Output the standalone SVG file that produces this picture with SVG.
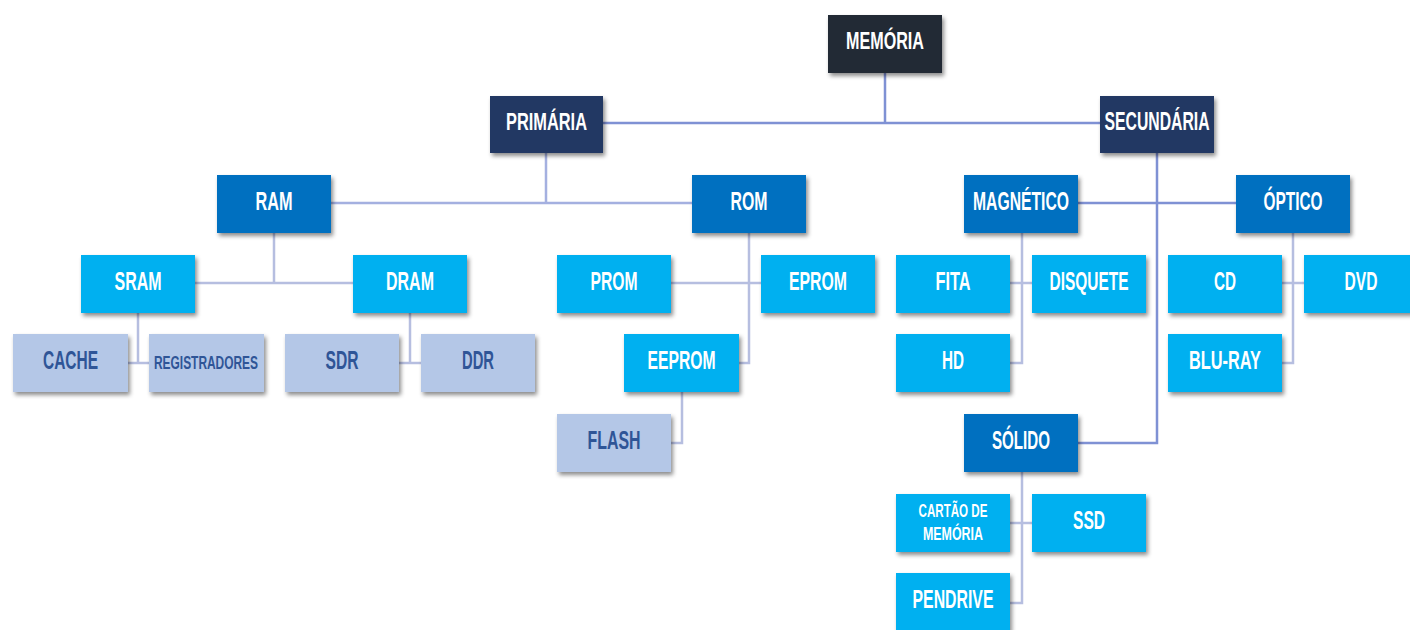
<svg xmlns="http://www.w3.org/2000/svg" width="1410" height="630" viewBox="0 0 1410 630">
<style>
.t{font-family:"Liberation Sans",Arial,sans-serif;font-weight:bold;fill:#ffffff;text-anchor:middle}
.s{font-size:26px}
.sm{font-size:19px}
.tp{fill:#2f5597}
.bx{filter:url(#sh)}
.c0{fill:#222a35}
.c1{fill:#203864}
.c2{fill:#0070c0}
.c3{fill:#00b0f0}
.c4{fill:#b4c7e7}
.l0{fill:none;stroke:#7f91d4;stroke-width:2.5}
.l1{fill:none;stroke:#a4b0e0;stroke-width:2.5}
.l2{fill:none;stroke:#b6bee0;stroke-width:2.5}
</style>
<defs>
<filter id="sh" x="-10%" y="-10%" width="125%" height="135%">
<feDropShadow dx="2" dy="3" stdDeviation="2.2" flood-color="#000000" flood-opacity="0.45"/>
</filter>
</defs>
<rect width="1410" height="630" fill="#ffffff"/>
<g id="connectors">
<path class="l0" d="M885 73V123M603 123H1100"/>
<path class="l1" d="M546 153V203M331 203H692"/>
<path class="l0" d="M1157 153V443H1078M1078 203H1236"/>
<path class="l2" d="M274 233V283M195 283H353"/>
<path class="l2" d="M749 233V363H739M671 283H761"/>
<path class="l2" d="M138 313V363M128 363H149"/>
<path class="l2" d="M410 313V363M399 363H421"/>
<path class="l2" d="M682 392V443H671"/>
<path class="l2" d="M1022 233V363H1010M1010 283H1032"/>
<path class="l2" d="M1293 233V363H1282M1282 283H1304"/>
<path class="l2" d="M1022 472V603H1010M1010 523H1032"/>
</g>
<g id="memoria"><rect class="bx c0" x="828" y="15" width="114" height="58"/><text class="t" x="885" y="49" font-size="23" textLength="78" lengthAdjust="spacingAndGlyphs">MEMÓRIA</text></g>
<g id="primaria"><rect class="bx c1" x="490" y="96" width="113" height="57"/><text class="t" x="546.5" y="130" font-size="24" textLength="81" lengthAdjust="spacingAndGlyphs">PRIMÁRIA</text></g>
<g id="secundaria"><rect class="bx c1" x="1100" y="96" width="114" height="57"/><text class="t s" x="1157" y="130" textLength="105" lengthAdjust="spacingAndGlyphs">SECUNDÁRIA</text></g>
<g id="ram"><rect class="bx c2" x="217" y="175" width="114" height="58"/><text class="t s" x="274" y="210" textLength="37" lengthAdjust="spacingAndGlyphs">RAM</text></g>
<g id="rom"><rect class="bx c2" x="692" y="175" width="114" height="58"/><text class="t s" x="749" y="210" textLength="37" lengthAdjust="spacingAndGlyphs">ROM</text></g>
<g id="magnetico"><rect class="bx c2" x="964" y="175" width="114" height="58"/><text class="t s" x="1021" y="210" textLength="96" lengthAdjust="spacingAndGlyphs">MAGNÉTICO</text></g>
<g id="optico"><rect class="bx c2" x="1236" y="175" width="114" height="58"/><text class="t s" x="1293" y="210" textLength="59" lengthAdjust="spacingAndGlyphs">ÓPTICO</text></g>
<g id="sram"><rect class="bx c3" x="81" y="255" width="114" height="58"/><text class="t s" x="138" y="290" textLength="47" lengthAdjust="spacingAndGlyphs">SRAM</text></g>
<g id="dram"><rect class="bx c3" x="353" y="255" width="114" height="58"/><text class="t s" x="410" y="290" textLength="48" lengthAdjust="spacingAndGlyphs">DRAM</text></g>
<g id="prom"><rect class="bx c3" x="557" y="255" width="114" height="58"/><text class="t s" x="614" y="290" textLength="47" lengthAdjust="spacingAndGlyphs">PROM</text></g>
<g id="eprom"><rect class="bx c3" x="761" y="255" width="114" height="58"/><text class="t s" x="818" y="290" textLength="58" lengthAdjust="spacingAndGlyphs">EPROM</text></g>
<g id="fita"><rect class="bx c3" x="896" y="255" width="114" height="58"/><text class="t s" x="953" y="290" textLength="35" lengthAdjust="spacingAndGlyphs">FITA</text></g>
<g id="disquete"><rect class="bx c3" x="1032" y="255" width="114" height="58"/><text class="t s" x="1089" y="290" textLength="79" lengthAdjust="spacingAndGlyphs">DISQUETE</text></g>
<g id="cd"><rect class="bx c3" x="1168" y="255" width="114" height="58"/><text class="t s" x="1225" y="290" textLength="22" lengthAdjust="spacingAndGlyphs">CD</text></g>
<g id="dvd"><rect class="bx c3" x="1304" y="255" width="114" height="58"/><text class="t s" x="1361" y="290" textLength="33" lengthAdjust="spacingAndGlyphs">DVD</text></g>
<g id="cache"><rect class="bx c4" x="13" y="334" width="115" height="58"/><text class="t s tp" x="70.5" y="369" textLength="55" lengthAdjust="spacingAndGlyphs">CACHE</text></g>
<g id="registradores"><rect class="bx c4" x="149" y="334" width="115" height="58"/><text class="t sm tp" x="206" y="369" textLength="104" lengthAdjust="spacingAndGlyphs">REGISTRADORES</text></g>
<g id="sdr"><rect class="bx c4" x="285" y="334" width="114" height="58"/><text class="t s tp" x="342" y="369" textLength="33" lengthAdjust="spacingAndGlyphs">SDR</text></g>
<g id="ddr"><rect class="bx c4" x="421" y="334" width="114" height="58"/><text class="t s tp" x="478" y="369" textLength="32" lengthAdjust="spacingAndGlyphs">DDR</text></g>
<g id="eeprom"><rect class="bx c3" x="624" y="334" width="115" height="58"/><text class="t s" x="681.5" y="369" textLength="68" lengthAdjust="spacingAndGlyphs">EEPROM</text></g>
<g id="hd"><rect class="bx c3" x="896" y="334" width="114" height="58"/><text class="t s" x="953" y="369" textLength="22" lengthAdjust="spacingAndGlyphs">HD</text></g>
<g id="bluray"><rect class="bx c3" x="1168" y="334" width="114" height="58"/><text class="t s" x="1225" y="369" textLength="72" lengthAdjust="spacingAndGlyphs">BLU-RAY</text></g>
<g id="flash"><rect class="bx c4" x="557" y="414" width="114" height="58"/><text class="t s tp" x="614" y="449" textLength="53" lengthAdjust="spacingAndGlyphs">FLASH</text></g>
<g id="solido"><rect class="bx c2" x="964" y="414" width="114" height="58"/><text class="t s" x="1021" y="449" textLength="58" lengthAdjust="spacingAndGlyphs">SÓLIDO</text></g>
<g id="cartao"><rect class="bx c3" x="896" y="494" width="114" height="58"/><text class="t sm" x="953" y="517" textLength="69" lengthAdjust="spacingAndGlyphs">CARTÃO DE</text><text class="t sm" x="953" y="540" textLength="60" lengthAdjust="spacingAndGlyphs">MEMÓRIA</text></g>
<g id="ssd"><rect class="bx c3" x="1032" y="494" width="114" height="58"/><text class="t s" x="1089" y="529" textLength="32" lengthAdjust="spacingAndGlyphs">SSD</text></g>
<g id="pendrive"><rect class="bx c3" x="896" y="573" width="114" height="58"/><text class="t s" x="953" y="608" textLength="81" lengthAdjust="spacingAndGlyphs">PENDRIVE</text></g>
</svg>
